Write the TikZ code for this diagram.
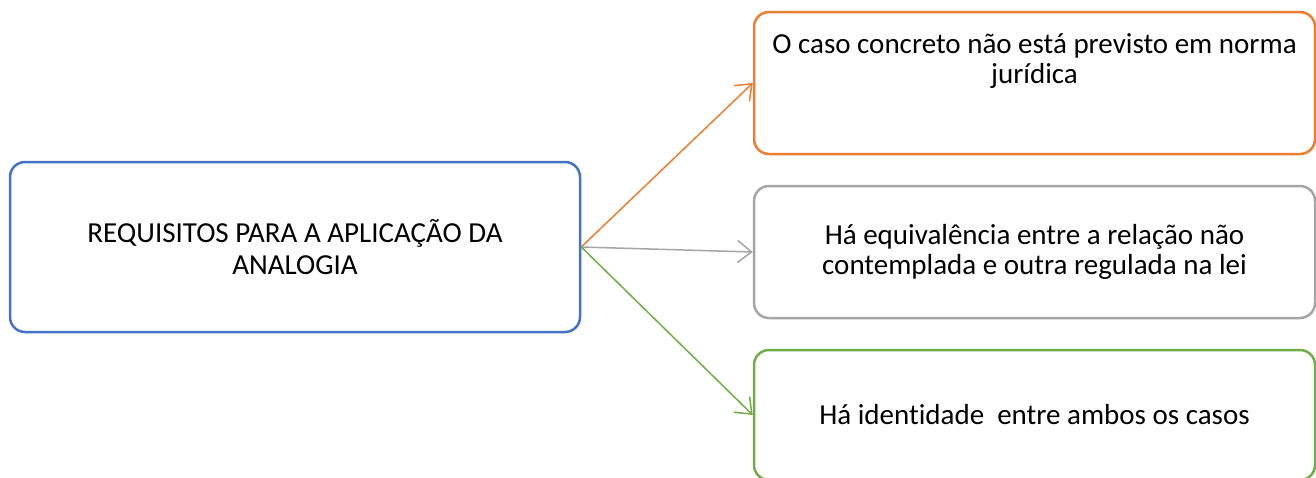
\documentclass[tikz,border=0pt]{standalone}
\usepackage{fontspec}
\setmainfont{Carlito}[Ligatures=NoCommon]
\usepackage{tikz}
\usetikzlibrary{positioning,arrows.meta}
\definecolor{reqblue}{HTML}{4472C4}
\definecolor{casoorange}{HTML}{ED7D31}
\definecolor{equivgrey}{HTML}{A5A5A5}
\definecolor{identgreen}{HTML}{70AD47}
\tikzstyle{req}=[draw=reqblue, rounded corners=15pt, line width=2.5pt, minimum width=570pt, minimum height=170pt, align=center, font=\fontsize{29}{32}\selectfont]
\tikzstyle{cond}=[draw, rounded corners=15pt, line width=2.5pt, minimum width=561pt, align=center, font=\fontsize{29}{30}\selectfont]
\tikzstyle{lig}=[->, line width=1.5pt]

\begin{document}
\begin{tikzpicture}[x=1pt,y=-1pt,>={Straight Barb[length=14pt,width=22pt]}]
\useasboundingbox (0,0) rectangle (1316,477);
  \node[req] at (295,247) (req) {REQUISITOS PARA A APLICAÇÃO DA\\ANALOGIA};
  \node[cond, draw=casoorange, minimum height=142pt, text depth=48pt] at (1034.5,83) (caso) {O caso concreto não está previsto em norma\\jurídica};
  \node[cond, draw=equivgrey, minimum height=132pt] at (1034.5,252) (equiv) {Há equivalência entre a relação não\\contemplada e outra regulada na lei};
  \node[cond, draw=identgreen, minimum height=130pt] at (1034.5,415) (ident) {Há identidade~ entre ambos os casos};

\draw[lig, casoorange] (req.east) -- (caso.west);
\draw[lig, equivgrey] (req.east) -- (equiv.west);
\draw[lig, identgreen] (req.east) -- (ident.west);
\end{tikzpicture}
\end{document}
